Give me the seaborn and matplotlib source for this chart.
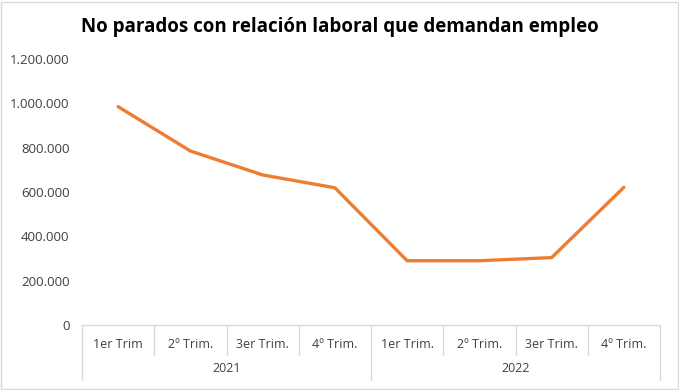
import matplotlib
matplotlib.use('Agg')
import matplotlib.pyplot as plt
import matplotlib.ticker as mticker
import matplotlib.transforms as mtransforms
from matplotlib.patches import Rectangle
import seaborn as sns
import pandas as pd

# Datos
anios = ['2021', '2022']
trimestres = ['1er Trim', '2º Trim.', '3er Trim.', '4º Trim.',
              '1er Trim.', '2º Trim.', '3er Trim.', '4º Trim.']
valores = [985000, 785000, 677000, 619000, 290000, 290000, 304000, 621000]
titulo = 'No parados con relación laboral que demandan empleo'

df = pd.DataFrame({'pos': range(len(valores)), 'valor': valores})

sns.set_style('white')
plt.rcParams['font.family'] = ['Open Sans', 'DejaVu Sans']

fig = plt.figure(figsize=(6.79, 3.90), dpi=100)
ax = fig.add_axes([82 / 679, 1 - 325 / 390, (660 - 82) / 679, (325 - 59) / 390])

sns.lineplot(data=df, x='pos', y='valor', color='#ED7D31', linewidth=2.4, ax=ax)

ax.set_xlim(-0.5, len(valores) - 0.5)
ax.set_ylim(0, 1200000)
ax.yaxis.set_major_locator(mticker.MultipleLocator(200000))
ax.yaxis.set_major_formatter(mticker.FuncFormatter(lambda v, p: f'{int(v):,}'.replace(',', '.')))
ax.tick_params(axis='y', length=0, pad=9, labelsize=9.5, labelcolor='#404040')
ax.set_xticks([])
ax.set_xlabel('')
ax.set_ylabel('')

for s in ['top', 'right', 'left']:
    ax.spines[s].set_visible(False)
ax.spines['bottom'].set_color('#D9D9D9')
ax.spines['bottom'].set_linewidth(1)

# Eje de categorías en dos niveles
tr = mtransforms.blended_transform_factory(ax.transData, ax.transAxes)
px = 1 / (325 - 59)  # un píxel en coordenadas de eje
n = len(trimestres)
for i, t in enumerate(trimestres):
    ax.text(i, -20 * px, t, transform=tr, ha='center', va='center',
            fontsize=9, color='#404040')
for k in range(n + 1):
    x = k - 0.5
    fondo = -55 * px if k % 4 == 0 else -30 * px
    ax.plot([x, x], [0, fondo], transform=tr, color='#D9D9D9', lw=1, clip_on=False)
for j, a in enumerate(anios):
    ax.text(j * 4 + 1.5, -44 * px, a, transform=tr, ha='center', va='center',
            fontsize=9, color='#404040')

fig.text(340 / 679, 1 - 27 / 390, titulo, ha='center', va='center',
         fontsize=13.5, fontweight='bold', color='black')

fig.patches.append(Rectangle((1 / 679, 1 / 390), 677 / 679, 387 / 390,
                             transform=fig.transFigure, fill=False,
                             edgecolor='#D9D9D9', lw=1))

fig.savefig('out.png', dpi=100)
